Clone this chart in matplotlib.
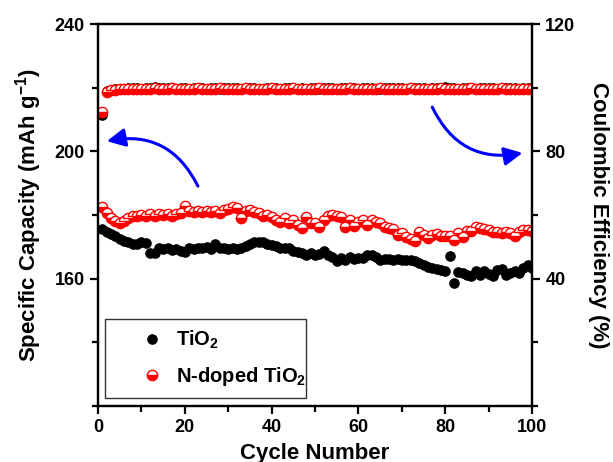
import numpy as np
import matplotlib
matplotlib.use("Agg")
import matplotlib.pyplot as plt
from matplotlib.ticker import MultipleLocator

plt.rcParams['font.family'] = ['Liberation Sans', 'DejaVu Sans']
plt.rcParams['font.weight'] = 'bold'
plt.rcParams['mathtext.fontset'] = 'custom'
plt.rcParams['mathtext.rm'] = 'Liberation Sans:bold'
plt.rcParams['mathtext.bf'] = 'Liberation Sans:bold'
plt.rcParams['mathtext.it'] = 'Liberation Sans:bold'

# ---------------------------------------------------
cycles = np.arange(1, 101)

cap_tio2 = [
    175.5, 174.6, 174.0, 173.3, 172.5, 172.0, 171.5, 171.0, 170.9, 171.6,
    171.2, 168.0, 168.2, 169.5, 169.2, 169.6, 169.0, 169.3, 168.6, 168.5,
    169.7, 169.3, 169.8, 169.5, 169.9, 169.4, 171.0, 169.6, 169.8, 169.4,
    169.5, 169.2, 169.8, 170.2, 171.0, 171.4, 171.6, 171.5, 171.0, 170.5,
    170.3, 169.8, 169.7, 169.5, 168.6, 168.3, 168.0, 167.6, 168.0, 167.5,
    167.9, 168.6, 167.4, 166.8, 165.5, 166.4, 166.0, 166.9, 166.2, 166.5,
    166.4, 167.3, 167.4, 166.9, 166.0, 166.1, 166.3, 166.0, 166.2, 165.9,
    165.8, 166.0, 165.7, 165.0, 164.2, 163.6, 163.3, 163.0, 162.8, 162.5,
    167.0, 158.8, 162.0, 161.7, 161.3, 161.0, 162.5, 161.2, 162.4, 161.4,
    160.8, 162.6, 163.0, 161.3, 161.8, 162.5, 161.9, 163.3, 164.2, 163.5,
]

cap_ndoped = [
    182.4, 180.6, 179.0, 178.2, 177.6, 178.0, 179.2, 179.6, 179.8, 180.0,
    179.6, 180.2, 179.8, 180.4, 180.0, 180.2, 179.8, 180.4, 180.6, 182.9,
    181.2, 181.0, 181.2, 181.0, 181.3, 181.0, 181.4, 180.8, 181.5, 182.0,
    182.6, 182.2, 179.0, 181.2, 181.6, 181.0, 180.5, 179.8, 180.0, 179.5,
    178.4, 177.8, 179.0, 177.4, 178.6, 176.8, 175.8, 179.5, 177.6, 177.4,
    176.4, 178.5, 179.7, 179.9, 179.8, 179.5, 176.3, 178.6, 176.6, 177.8,
    178.4, 176.9, 178.6, 177.7, 177.5, 176.4, 175.9, 175.6, 173.6, 174.3,
    173.1, 172.6, 172.0, 174.6, 173.6, 172.8, 173.8, 174.1, 173.4, 173.3,
    173.4, 172.3, 174.5, 173.0, 175.0, 175.1, 176.2, 175.8, 175.7, 175.4,
    174.8, 174.7, 174.5, 174.6, 174.3, 173.3, 174.7, 175.3, 175.2, 175.0,
]

ce_tio2 = [
    91.4, 98.9, 99.4, 99.6, 99.7, 99.6, 99.8, 99.9, 99.8, 99.7,
    99.9, 100.0, 100.1, 99.9, 100.0, 99.8, 99.9, 99.7, 99.8, 99.9,
    99.7, 99.8, 99.9, 99.8, 99.6, 99.8, 99.9, 99.7, 99.8, 99.8,
    99.9, 99.8, 99.7, 99.8, 99.9, 99.8, 99.7, 99.5, 99.8, 99.9,
    99.8, 99.7, 99.8, 99.9, 99.8, 99.7, 99.8, 99.6, 99.8, 99.9,
    99.7, 99.8, 99.8, 99.9, 99.7, 99.8, 99.8, 99.9, 99.8, 99.7,
    99.8, 99.9, 99.8, 99.7, 99.5, 99.8, 99.8, 99.9, 99.8, 99.8,
    99.7, 99.8, 99.9, 99.8, 99.8, 99.7, 99.8, 99.9, 99.8, 100.2,
    99.9, 99.8, 99.5, 99.8, 99.9, 99.8, 99.7, 99.8, 99.8, 99.9,
    99.8, 99.7, 99.8, 99.9, 99.8, 99.8, 99.7, 99.8, 99.9, 99.8,
]

ce_ndoped = [
    92.5, 98.5, 99.2, 99.4, 99.5, 99.6, 99.6, 99.7, 99.7, 99.7,
    99.7, 99.7, 99.8, 99.7, 99.7, 99.7, 99.8, 99.7, 99.7, 99.7,
    99.7, 99.7, 99.8, 99.7, 99.7, 99.7, 99.7, 99.8, 99.7, 99.7,
    99.7, 99.7, 99.7, 99.8, 99.7, 99.7, 99.7, 99.7, 99.7, 99.8,
    99.7, 99.7, 99.7, 99.7, 99.8, 99.7, 99.7, 99.7, 99.7, 99.7,
    99.8, 99.7, 99.7, 99.7, 99.7, 99.7, 99.7, 99.8, 99.7, 99.7,
    99.7, 99.7, 99.7, 99.7, 99.8, 99.7, 99.7, 99.7, 99.7, 99.7,
    99.7, 99.8, 99.7, 99.7, 99.7, 99.7, 99.7, 99.7, 99.8, 99.7,
    99.7, 99.7, 99.7, 99.7, 99.7, 99.8, 99.7, 99.7, 99.7, 99.7,
    99.7, 99.7, 99.8, 99.7, 99.7, 99.7, 99.7, 99.7, 99.7, 99.7,
]
# ---------------------------------------------------

fig = plt.figure(figsize=(6.13, 4.62), dpi=100)
ax = fig.add_axes([0.160, 0.121, 0.708, 0.827])
ax2 = ax.twinx()

black_style = dict(ls='none', marker='o', ms=6.8, mfc='black', mec='black', mew=0.8)
red_style = dict(ls='none', marker='o', ms=7.4, mfc='red', mec='red', mew=1.0,
                 fillstyle='bottom', markerfacecoloralt='white')

h1, = ax.plot(cycles, cap_tio2, **black_style)
h2, = ax.plot(cycles, cap_ndoped, **red_style)
ax2.plot(cycles, ce_tio2, **black_style)
ax2.plot(cycles, ce_ndoped, **red_style)

ax.set_xlim(0, 100)
ax.set_ylim(120, 240)
ax2.set_ylim(0, 120)
ax.set_xticks([0, 20, 40, 60, 80, 100])
ax.xaxis.set_minor_locator(MultipleLocator(10))
ax.set_yticks([160, 200, 240])
ax.yaxis.set_minor_locator(MultipleLocator(20))
ax2.set_yticks([40, 80, 120])
ax2.yaxis.set_minor_locator(MultipleLocator(20))

for a in (ax, ax2):
    for s in a.spines.values():
        s.set_linewidth(1.6)
    a.tick_params(which='major', direction='out', length=6, width=1.6, labelsize=13)
    a.tick_params(which='minor', direction='out', length=4, width=1.6)
ax.tick_params(axis='x', pad=3)

ax.set_xlabel('Cycle Number', fontsize=16, fontweight='bold', labelpad=5)
ax.set_ylabel(r'Specific Capacity (mAh g$^{\mathbf{-1}}$)', fontsize=16, fontweight='bold', labelpad=8)
ax2.set_ylabel('Coulombic Efficiency (%)', fontsize=16, fontweight='bold', rotation=270, labelpad=24)

# curved arrows pointing each group of points to its axis
arrow = dict(arrowstyle='-|>,head_length=1.1,head_width=0.55', color='blue', lw=2.2,
             shrinkA=0, shrinkB=0)
ax.annotate('', xy=(2.0, 203.2), xytext=(23.0, 189.1),
            arrowprops=dict(connectionstyle='arc3,rad=0.38', **arrow))
ax.annotate('', xy=(97.8, 199.5), xytext=(77.0, 213.9),
            arrowprops=dict(connectionstyle='arc3,rad=0.38', **arrow))

leg = ax2.legend([h1, h2], [r'TiO$_\mathbf{2}$', r'N-doped TiO$_\mathbf{2}$'],
                 loc='lower left', bbox_to_anchor=(0.016, 0.021, 0.463, 0.19),
                 mode='expand', borderaxespad=0, fancybox=False, frameon=True,
                 edgecolor='black', prop={'size': 14.5, 'weight': 'bold'},
                 borderpad=0.5, labelspacing=0.7, handletextpad=-0.7, handlelength=3.7)
leg.get_frame().set_linewidth(1.0)

fig.savefig('out.png', dpi=100)
